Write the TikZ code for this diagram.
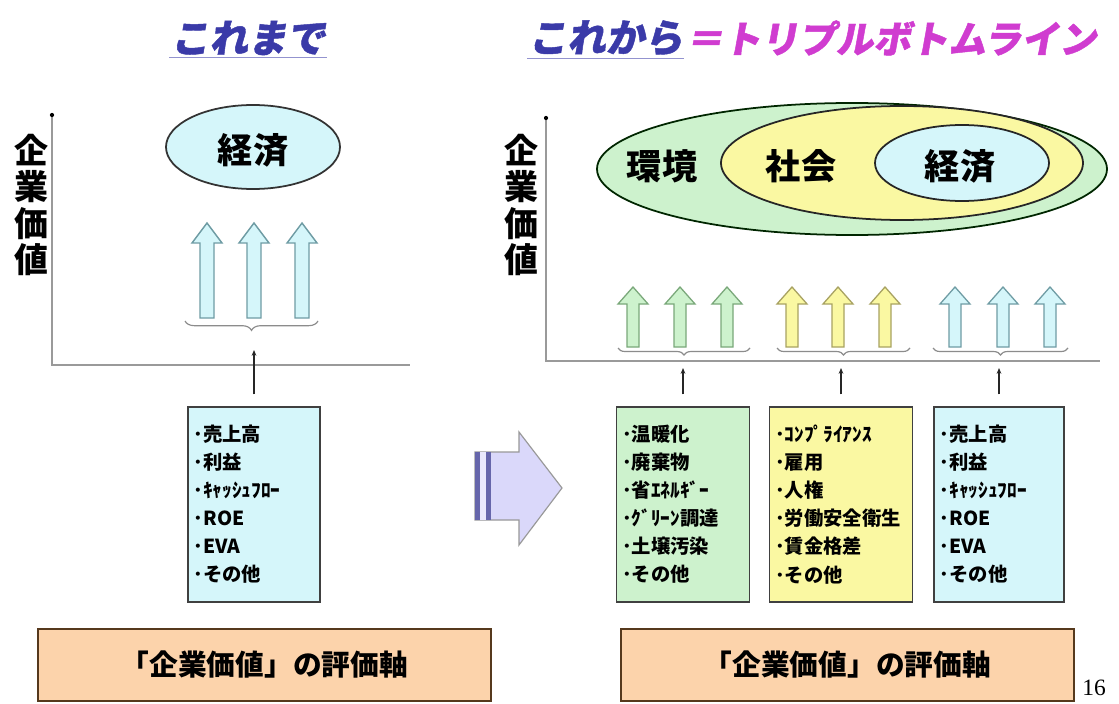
\documentclass[tikz,border=0pt]{standalone}
\usepackage{fontspec}
\newfontfamily\cjk{Noto Sans CJK JP}
\newfontfamily\cjksl{Noto Sans CJK JP}[FakeSlant=0.18, FakeBold=1.2]
\newfontfamily\serifnum{Liberation Serif}
\usetikzlibrary{decorations.pathreplacing,arrows.meta}
\definecolor{cyanF}{HTML}{D5F6FA}
\definecolor{greenF}{HTML}{CDF2CD}
\definecolor{yellowF}{HTML}{FAF8A2}
\definecolor{peachF}{HTML}{FCD3AB}
\definecolor{lavF}{HTML}{DAD8FA}
\definecolor{tblue}{HTML}{3A3AA8}
\definecolor{tmag}{HTML}{D03CD0}
\definecolor{axisgray}{HTML}{9A9A9A}
\definecolor{cyanL}{HTML}{6F9CA4}
\definecolor{greenL}{HTML}{7AA87A}
\definecolor{yellowL}{HTML}{A8A262}
\begin{document}
\begin{tikzpicture}[x=0.03cm,y=-0.03cm,
  title/.style={font=\cjksl\bfseries\fontsize{33}{36}\selectfont, inner sep=1pt},
  ylab/.style={font=\cjk\bfseries\fontsize{29}{31}\selectfont, align=center, inner sep=0pt},
  elab/.style={font=\cjk\bfseries\fontsize{30}{32}\selectfont, inner sep=0pt},
  axisline/.style={draw=axisgray, line width=1.6pt},
  itembox/.style={draw=black!75, line width=1.4pt, anchor=north, minimum height=5.85cm,
    inner xsep=0.17cm, align=left, font=\cjk\bfseries\fontsize{16.5}{24}\selectfont},
  evalbox/.style={draw=black!55!brown, fill=peachF, line width=1.4pt, anchor=north west,
    minimum width=13.59cm, minimum height=2.16cm, font=\cjk\bfseries\fontsize{24.5}{26}\selectfont},
  bracestyle/.style={draw=black!45, line width=1pt, decorate,
    decoration={brace, mirror, amplitude=#1}},
  smallarr/.style={draw=black!85, line width=0.9pt, -{Stealth[length=5pt,width=4pt]}},
  pics/uparr/.style n args={4}{code={
    \draw[pic actions] (-#1,0) -- (-#1,-#3+#4) -- (-#2,-#3+#4) -- (0,-#3)
      -- (#2,-#3+#4) -- (#1,-#3+#4) -- (#1,0) -- cycle;}}
]
\useasboundingbox[fill=white] (0,0) rectangle (1119,704);

% ---------- titles ----------
\node[title, text=tblue] (t1) at (248,38) {これまで};
\draw[tblue!55, line width=1.2pt] ([yshift=-1pt]t1.south west) -- ([yshift=-1pt]t1.south east);
\node[title, text=tblue, anchor=west] (t2) at (527,38) {これから};
\draw[tblue!55, line width=1.2pt] ([yshift=-1pt]t2.south west) -- ([yshift=-1pt]t2.south east);
\node[title, text=tmag, anchor=west, font=\cjksl\bfseries\fontsize{32}{36}\selectfont] (t3) at (t2.east) {＝トリプルボトムライン};

% ---------- left chart ----------
\coordinate (lTop) at (52,115);
\coordinate (lO) at (52,365);
\coordinate (lEnd) at (410,365);
\draw[axisline] (lTop) -- (lO) -- (lEnd);
\fill[black] (lTop) circle (1.8pt);
\node[ylab] (yl1) at (31,205) {企\\業\\価\\値};

\draw[fill=cyanF, draw=black!80, line width=1.5pt] (253,147) ellipse [x radius=87, y radius=42];
\node[elab] (le) at (253,150) {経済};

\foreach \xx in {207,254,302}
  \pic[fill=cyanF, draw=cyanL, line width=1.2pt] at (\xx,318) {uparr={7}{15}{95}{20}};
\draw[bracestyle=8pt] (185,321) -- (318,321);

\node[itembox, fill=cyanF, text width=3.62cm] (lbox) at (254,406)
  {･売上高\\･利益\\･ｷｬｯｼｭﾌﾛｰ\\･ROE\\･EVA\\･その他};
\coordinate (lTip) at (254,350);
\draw[smallarr, shorten <=10pt] (lbox.north) -- (lTip);

\node[evalbox] (lev) at (37,628) {「企業価値」の評価軸};

% ---------- middle block arrow ----------
\draw[fill=lavF, draw=black!40, line width=1pt]
  (475,452) -- (519,452) -- (519,432) -- (562,488) -- (519,545) -- (519,520) -- (475,520) -- cycle;
\fill[black!55!blue!60] (475,452) rectangle (491,520);
\fill[lavF!60!white] (480,452) rectangle (486,520);

% ---------- right chart ----------
\coordinate (rTop) at (546,118);
\coordinate (rO) at (546,361);
\coordinate (rEnd) at (1100,361);
\draw[axisline] (rTop) -- (rO) -- (rEnd);
\fill[black] (rTop) circle (1.8pt);
\node[ylab] (yl2) at (521,205) {企\\業\\価\\値};

\draw[fill=greenF, draw=black!75!green!60!black, line width=1.5pt] (852,169) ellipse [x radius=255, y radius=66];
\draw[fill=yellowF, draw=black!85, line width=1.5pt] (902,163) ellipse [x radius=181, y radius=57];
\draw[fill=cyanF, draw=black!85, line width=1.5pt] (962,163) ellipse [x radius=87, y radius=38];
\node[elab] (env) at (662,166) {環境};
\node[elab] (soc) at (801,166) {社会};
\node[elab] (eco) at (960,166) {経済};

\foreach \xx in {633,680,727}
  \pic[fill=greenF, draw=greenL, line width=1.1pt] at (\xx,347) {uparr={6}{15}{60}{17}};
\foreach \xx in {792,838,885}
  \pic[fill=yellowF, draw=yellowL, line width=1.1pt] at (\xx,347) {uparr={6}{15}{60}{17}};
\foreach \xx in {955,1003,1050}
  \pic[fill=cyanF, draw=cyanL, line width=1.1pt] at (\xx,347) {uparr={6}{15}{60}{17}};
\draw[bracestyle=6pt] (618,348) -- (750,348);
\draw[bracestyle=6pt] (777,348) -- (910,348);
\draw[bracestyle=6pt] (933,348) -- (1068,348);

\node[itembox, fill=greenF, text width=3.65cm] (gbox) at (683,406)
  {･温暖化\\･廃棄物\\･省ｴﾈﾙｷﾞｰ\\･ｸﾞﾘｰﾝ調達\\･土壌汚染\\･その他};
\node[itembox, fill=yellowF, text width=3.95cm] (ybox) at (841,406)
  {･ｺﾝﾌﾟﾗｲｱﾝｽ\\･雇用\\･人権\\･労働安全衛生\\･賃金格差\\･その他};
\node[itembox, fill=cyanF, text width=3.56cm] (cbox) at (999,406)
  {･売上高\\･利益\\･ｷｬｯｼｭﾌﾛｰ\\･ROE\\･EVA\\･その他};
\coordinate (gTip) at (683,368);
\coordinate (yTip) at (841,368);
\coordinate (cTip) at (999,368);
\draw[smallarr, shorten <=10pt] (gbox.north) -- (gTip);
\draw[smallarr, shorten <=10pt] (ybox.north) -- (yTip);
\draw[smallarr, shorten <=10pt] (cbox.north) -- (cTip);

\node[evalbox] (rev) at (620,628) {「企業価値」の評価軸};
\node[font=\serifnum\fontsize{20}{22}\selectfont, inner sep=0pt] (pg) at (1094,688) {16};
\end{tikzpicture}
\end{document}
